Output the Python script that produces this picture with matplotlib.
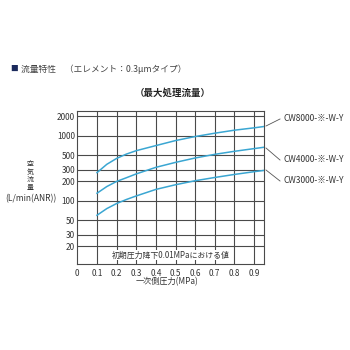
import matplotlib
matplotlib.use('Agg')
import matplotlib.pyplot as plt
from matplotlib.ticker import FixedLocator, NullLocator

plt.rcParams['font.family'] = ['Noto Sans CJK JP', 'DejaVu Sans']

# Data
pressure = [0.1, 0.15, 0.2, 0.25, 0.3, 0.4, 0.5, 0.6, 0.7, 0.8, 0.9, 0.95]
cw8000 = [272, 365, 450, 525, 592, 709, 847, 977, 1100, 1224, 1330, 1394]
cw4000 = [131, 166, 199, 227, 260, 328, 391, 457, 520, 579, 637, 668]
cw3000 = [60, 76, 91, 105, 119, 150, 177, 204, 229, 255, 281, 294]
series_names = ['CW8000-※-W-Y', 'CW4000-※-W-Y', 'CW3000-※-W-Y']

y_ticks = [20, 30, 50, 100, 200, 300, 500, 1000, 2000]
x_ticks = [0, 0.1, 0.2, 0.3, 0.4, 0.5, 0.6, 0.7, 0.8, 0.9]

line_color = '#3aa6d2'
grid_color = '#4a4a4a'
text_color = '#333333'

fig = plt.figure(figsize=(3.5, 3.5), dpi=100)
ax = fig.add_axes([0.221, 0.246, 0.533, 0.437])

for vals in [cw8000, cw4000, cw3000]:
    ax.plot(pressure, vals, color=line_color, linewidth=1.1, zorder=3)

ax.set_yscale('log')
ax.set_xlim(0, 0.95)
ax.set_ylim(10.7, 2420)
ax.yaxis.set_major_locator(FixedLocator(y_ticks))
ax.yaxis.set_minor_locator(NullLocator())
ax.set_yticklabels([str(v) for v in y_ticks])
ax.set_xticks(x_ticks)
ax.set_xticklabels(['0'] + ['%.1f' % v for v in x_ticks[1:]])
ax.tick_params(length=0, labelsize=5.9, colors=text_color)
ax.tick_params(axis='y', pad=1.5)
ax.tick_params(axis='x', pad=4)

for v in y_ticks:
    ax.axhline(v, color=grid_color, linewidth=0.8, zorder=1)
for v in x_ticks[1:]:
    ax.axvline(v, color=grid_color, linewidth=0.8, zorder=1)
for side in ['left', 'right', 'top', 'bottom']:
    ax.spines[side].set_color(grid_color)
    ax.spines[side].set_linewidth(0.8)

# annotation inside the chart
ax.text(0.475, 14.5, '初期圧力降下0.01MPaにおける値', ha='center', va='center',
        fontsize=5.7, color=text_color, zorder=4,
        bbox=dict(facecolor='white', edgecolor='none', pad=0.3))

# series labels with leader lines
label_y = [118, 159, 180]
line_end_y = [126, 148, 170]
for name, ly, ey in zip(series_names, label_y, line_end_y):
    fig.add_artist(plt.Line2D([266 / 350, 280 / 350], [1 - ey / 350, 1 - (ly + 1) / 350],
                              color='#555555', linewidth=0.6))
    fig.text(283 / 350, 1 - ly / 350, name, ha='left', va='center',
             fontsize=6.1, color=text_color)

# axis labels
fig.text(30 / 350, 1 - 176 / 350, '空\n気\n流\n量', ha='center', va='center',
         fontsize=5, color=text_color, linespacing=0.95)
fig.text(31 / 350, 1 - 199 / 350, '(L/min(ANR))', ha='center', va='center',
         fontsize=6.1, color=text_color)
fig.text(167 / 350, 1 - 282 / 350, '一次側圧力(MPa)', ha='center', va='center',
         fontsize=5.9, color=text_color)

# titles
fig.text(10 / 350, 1 - 69 / 350, '■', ha='left', va='center', fontsize=5.5, color='#1b2a5c')
fig.text(21 / 350, 1 - 69 / 350, '流量特性　（エレメント：0.3μmタイプ）', ha='left', va='center',
         fontsize=6.3, color='#444444')
fig.text(173 / 350, 1 - 93 / 350, '（最大処理流量）', ha='center', va='center',
         fontsize=6.8, color='#222222', fontweight='bold')

fig.savefig('out.png', dpi=100)
